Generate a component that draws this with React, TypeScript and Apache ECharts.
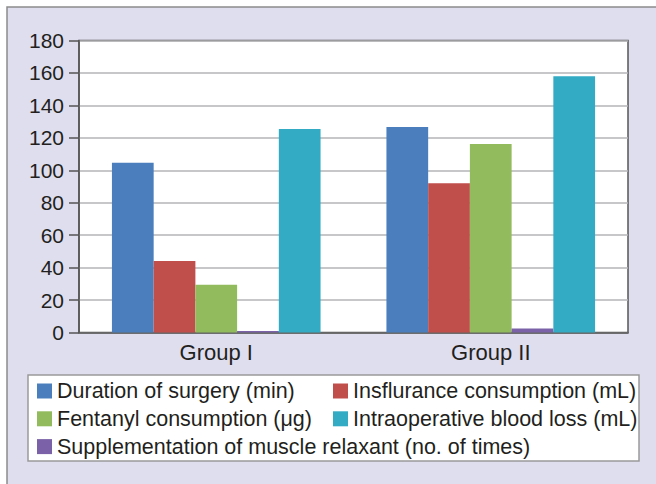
import React, { useEffect, useRef } from "react";
import * as echarts from "echarts";

const categories = ["Group I", "Group II"];
const seriesNames = [
  "Duration of surgery (min)",
  "Insflurance consumption (mL)",
  "Fentanyl consumption (μg)",
  "Intraoperative blood loss (mL)",
  "Supplementation of muscle relaxant (no. of times)",
];
const duration = [104.7, 126.7];
const insflurance = [44, 92];
const fentanyl = [29.5, 116.2];
const bloodLoss = [125.5, 158];
const relaxant = [1, 2.5];
const yTicks = { min: 0, max: 180, interval: 20 };

const colors = ["#4a7ebd", "#c04f4c", "#92bb5d", "#33abc4", "#7b62a8"];
const FONT = "'Liberation Sans', Arial, sans-serif";

export default function App() {
  const ref = useRef<HTMLDivElement>(null);
  useEffect(() => {
    if (!ref.current) return;
    const chart = echarts.init(ref.current, null, { renderer: "svg" });
    // bar order as drawn: duration, insflurance, fentanyl, relaxant, blood loss
    const order = [
      { name: seriesNames[0], data: duration, color: colors[0] },
      { name: seriesNames[1], data: insflurance, color: colors[1] },
      { name: seriesNames[2], data: fentanyl, color: colors[2] },
      { name: seriesNames[4], data: relaxant, color: colors[4] },
      { name: seriesNames[3], data: bloodLoss, color: colors[3] },
    ];
    const legendText = { fontFamily: FONT, fontSize: 21.5, color: "#231f20", lineHeight: 21 };
    chart.setOption({
      animation: false,
      backgroundColor: "#ffffff",
      textStyle: { fontFamily: FONT },
      graphic: [
        {
          type: "rect",
          z: -10,
          silent: true,
          shape: { x: 7, y: 7, width: 700, height: 500 },
          style: { fill: "#dfdeee", stroke: "#8c8c8c", lineWidth: 1.5 },
        },
        {
          type: "rect",
          z: -5,
          silent: true,
          shape: { x: 28, y: 375, width: 611, height: 86 },
          style: { fill: "#ffffff", stroke: "#9a9a9a", lineWidth: 1.5 },
        },
      ],
      grid: {
        left: 79,
        right: 28,
        top: 40.5,
        bottom: 151.5,
        show: true,
        backgroundColor: "#ffffff",
        borderColor: "#555555",
        borderWidth: 1.5,
      },
      legend: [
        {
          data: [seriesNames[0], seriesNames[2], seriesNames[4]],
          orient: "vertical",
          left: 37,
          top: 380,
          padding: 0,
          itemGap: 5.8,
          itemWidth: 15,
          itemHeight: 15,
          icon: "rect",
          textStyle: legendText,
          selectedMode: false,
        },
        {
          data: [seriesNames[1], seriesNames[3]],
          orient: "vertical",
          left: 333,
          top: 380,
          padding: 0,
          itemGap: 5.8,
          itemWidth: 15,
          itemHeight: 15,
          icon: "rect",
          textStyle: legendText,
          selectedMode: false,
        },
      ],
      xAxis: {
        type: "category",
        data: categories,
        axisLine: { lineStyle: { color: "#555555", width: 1.5 } },
        axisTick: { length: 9, lineStyle: { color: "#555555", width: 1.5 } },
        axisLabel: { fontFamily: FONT, fontSize: 22, color: "#231f20", margin: 9 },
      },
      yAxis: {
        type: "value",
        min: yTicks.min,
        max: yTicks.max,
        interval: yTicks.interval,
        axisLine: { show: true, lineStyle: { color: "#555555", width: 1.5 } },
        axisTick: { show: true, length: 10, lineStyle: { color: "#555555", width: 1.5 } },
        axisLabel: { fontFamily: FONT, fontSize: 21, color: "#231f20", margin: 15 },
        splitLine: { lineStyle: { color: "#b4b4b8", width: 1.5 } },
      },
      series: order.map((s) => ({
        type: "bar",
        name: s.name,
        data: s.data,
        barGap: "0%",
        barCategoryGap: "24%",
        itemStyle: { color: s.color },
      })),
    });
    return () => chart.dispose();
  }, []);
  return (
    <div
      ref={ref}
      style={{ position: "absolute", left: 0, top: 0, width: 656, height: 484 }}
    />
  );
}
